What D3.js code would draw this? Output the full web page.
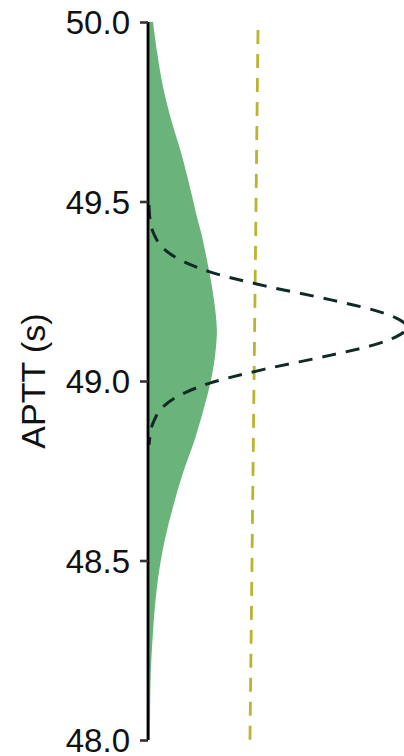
<!DOCTYPE html>
<html>
<head>
<meta charset="utf-8">
<script src="https://cdn.jsdelivr.net/npm/d3@7"></script>
<style>
  html, body { margin: 0; padding: 0; background: #fff; }
  svg { display: block; }
  text { font-family: "Liberation Sans", Arial, sans-serif; }
</style>
</head>
<body>
<svg id="chart" width="404" height="756"></svg>
<script>
// Posterior density of APTT (green area)
const postAPTT    = [50.000, 49.914, 49.819, 49.727, 49.635, 49.540, 49.457, 49.407, 49.295, 49.226, 49.142, 49.072, 49.003, 48.919, 48.836, 48.744, 48.649, 48.557, 48.467, 48.370, 48.279, 48.187, 48.092, 48.000];
const postDensity = [0.07, 0.14, 0.24, 0.38, 0.55, 0.70, 0.82, 0.90, 1.04, 1.11, 1.16, 1.13, 1.06, 0.93, 0.78, 0.58, 0.41, 0.27, 0.17, 0.10, 0.06, 0.03, 0.02, 0.015];

// Likelihood curve (dark dashed)
const likeAPTT    = [49.490, 49.462, 49.435, 49.407, 49.370, 49.331, 49.304, 49.265, 49.226, 49.198, 49.176, 49.149, 49.123, 49.100, 49.072, 49.033, 48.994, 48.967, 48.928, 48.891, 48.863, 48.836, 48.822];
const likeDensity = [0.00, 0.01, 0.03, 0.09, 0.24, 0.61, 1.04, 1.98, 3.11, 3.83, 4.22, 4.41, 4.22, 3.83, 3.11, 1.98, 1.04, 0.61, 0.24, 0.09, 0.03, 0.01, 0.00];

// Prior line (olive dashed)
const priorAPTT    = [49.978, 48.000];
const priorDensity = [1.863, 1.726];

const yTicks = [48.0, 48.5, 49.0, 49.5, 50.0];

const svg = d3.select("#chart");

const y = d3.scaleLinear().domain([48, 50]).range([740, 22]);
const x = d3.scaleLinear().domain([0, 4.41]).range([149, 407]);

const post  = postAPTT.map((v, i) => ({ v, d: postDensity[i] }));
const like  = likeAPTT.map((v, i) => ({ v, d: likeDensity[i] }));
const prior = priorAPTT.map((v, i) => ({ v, d: priorDensity[i] }));

// Green posterior area
svg.append("path")
  .datum(post)
  .attr("fill", "#6ab37b")
  .attr("d", d3.area()
    .y(p => y(p.v))
    .x0(x(0))
    .x1(p => x(p.d))
    .curve(d3.curveCatmullRom.alpha(0.5)));

// Prior line
svg.append("path")
  .datum(prior)
  .attr("fill", "none")
  .attr("stroke", "#b8b631")
  .attr("stroke-width", 2.8)
  .attr("stroke-dasharray", "14,10")
  .attr("d", d3.line().x(p => x(p.d)).y(p => y(p.v)));

// Likelihood curve
svg.append("path")
  .datum(like)
  .attr("fill", "none")
  .attr("stroke", "#0f2a27")
  .attr("stroke-width", 3)
  .attr("stroke-dasharray", "14,10")
  .attr("d", d3.line().x(p => x(p.d)).y(p => y(p.v)).curve(d3.curveMonotoneY));

// Y axis
const axis = svg.append("g")
  .attr("transform", `translate(${x(0) - 1},0)`)
  .call(d3.axisLeft(y).tickValues(yTicks).tickFormat(d3.format(".1f")).tickSize(8).tickPadding(10));

axis.select(".domain")
  .attr("stroke", "#000")
  .attr("stroke-width", 2.8)
  .attr("d", `M0,${y(48)}V${y(50)}`);
axis.selectAll(".tick line")
  .attr("stroke", "#333")
  .attr("stroke-width", 2.6);
axis.selectAll(".tick text")
  .attr("fill", "#111")
  .attr("font-size", 33)
  .attr("dy", "0.35em");

// Axis title
svg.append("text")
  .attr("transform", `translate(45,${(y(48) + y(50)) / 2}) rotate(-90)`)
  .attr("text-anchor", "middle")
  .attr("font-size", 34)
  .attr("fill", "#111")
  .text("APTT (s)");
</script>
</body>
</html>
